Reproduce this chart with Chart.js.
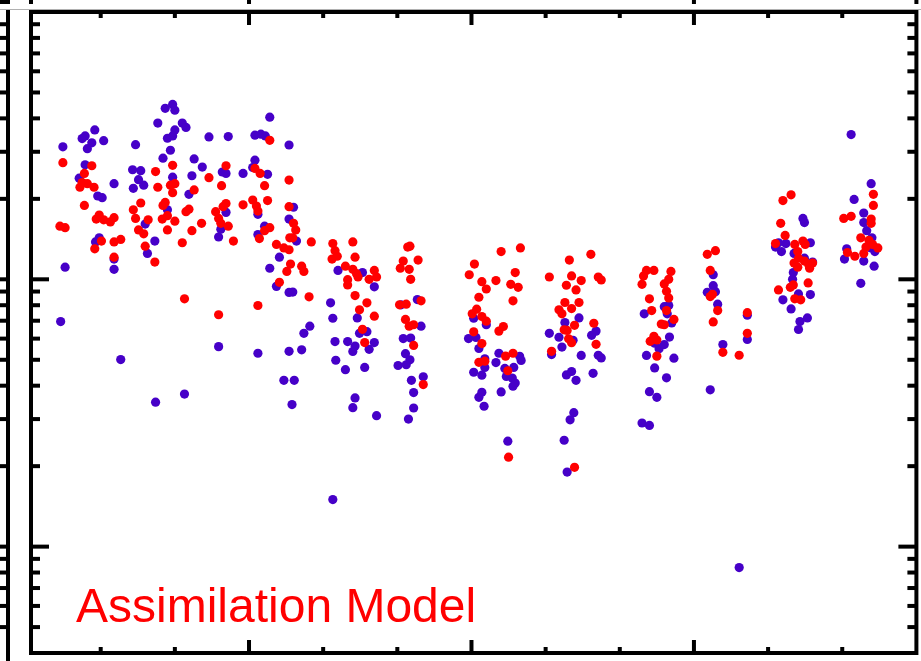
<!DOCTYPE html>
<html>
<head>
<meta charset="utf-8">
<script src="https://cdn.jsdelivr.net/npm/chart.js@4/dist/chart.umd.min.js"></script>
<style>
  body { margin: 0; background: #fff; overflow: hidden; }
</style>
</head>
<body>
<canvas id="grafico" width="921" height="661"></canvas>
<script>
// punti viola [x, y]
const puntiViola = [
  [0.49,31.3],[0.46,6.95],[0.52,11.1],
  [0.71,23.9],[0.75,33.6],[0.79,34.4],[0.79,26.8],[0.82,30.8],[0.88,32.4],[0.92,36.2],[0.93,13.8],[0.96,20.5],[0.98,14.3],
  [1.02,20.2],[1.04,33.0],[1.18,22.8],[1.18,11.9],[1.18,10.9],[1.27,5.01],
  [1.43,25.7],[1.44,21.9],[1.47,31.9],[1.51,23.6],[1.54,25.5],[1.58,22.5],[1.60,16.1],[1.63,12.5],[1.73,13.9],[1.74,3.47],
  [1.77,38.4],[1.84,28.4],[1.87,43.6],[1.90,33.7],[1.90,18.2],[1.94,30.4],[1.97,45.1],[1.97,34.4],[1.97,24.1],[2.00,42.9],[2.00,36.2],
  [2.10,38.4],[2.15,37.0],[2.13,3.72],[2.19,20.8],
  [2.23,24.4],[2.26,28.2],[2.37,26.3],[2.46,34.1],[2.59,14.4],[2.59,5.60],[2.62,15.4],[2.64,25.2],[2.69,24.9],[2.69,17.8],[2.72,34.2],[2.92,24.9],
  [3.05,26.2],[3.08,34.6],[3.08,27.9],[3.12,17.5],[3.12,14.7],[3.12,5.29],[3.16,34.9],[3.21,15.8],[3.22,34.4],[3.25,24.7],[3.28,40.4],[3.28,11.0],[3.37,9.41],[3.41,12.1],[3.47,4.19],
  [3.54,31.8],[3.54,16.8],[3.54,8.93],[3.54,5.38],[3.58,3.40],[3.59,8.96],[3.60,18.6],[3.61,4.19],[3.64,13.9],[3.71,5.45],[3.74,6.28],[3.82,6.68],
  [4.10,8.17],[4.13,7.15],[4.13,1.50],[4.16,5.85],[4.17,4.98],[4.20,10.8],[4.30,4.59],[4.33,5.85],[4.40,5.37],[4.40,3.31],[4.43,5.63],[4.43,3.60],[4.46,7.17],[4.49,6.28],[4.53,10.6],[4.56,4.68],[4.59,6.37],[4.62,5.47],[4.69,9.37],[4.69,5.80],[4.72,3.09],
  [5.01,4.76],[5.05,8.03],[5.08,6.00],[5.11,5.27],[5.12,4.79],[5.15,3.00],[5.17,5.00],[5.18,6.03],[5.19,4.19],[5.22,3.77],[5.22,3.30],[5.27,8.40],[5.32,6.68],[5.35,4.32],
  [5.96,6.00],[6.03,7.15],[6.03,4.49],[6.06,6.06],[6.10,5.51],[6.10,3.62],[6.14,4.38],[6.14,3.78],[6.17,3.35],[6.18,5.04],[6.18,4.68],[6.20,6.76],[6.33,4.88],[6.37,5.29],[6.40,3.79],[6.45,4.64],[6.47,4.33],[6.49,2.48],[6.55,4.27],[6.56,3.98],[6.57,4.68],[6.59,4.09],[6.65,5.15],[6.67,4.97],
  [7.05,6.28],[7.08,5.23],[7.18,6.07],[7.22,5.58],[7.25,2.50],[7.26,6.89],[7.28,4.39],[7.29,1.90],[7.33,2.98],[7.35,4.52],[7.37,5.91],[7.38,3.17],[7.41,4.19],[7.45,7.17],[7.48,5.19],[7.62,6.17],[7.64,4.45],[7.68,6.40],[7.71,5.20],[7.75,5.08],
  [8.30,2.90],[8.33,7.43],[8.36,5.19],[8.40,3.80],[8.40,2.84],[8.47,5.77],[8.47,4.66],[8.50,3.62],[8.53,5.50],[8.60,7.90],[8.60,5.70],[8.63,4.28],[8.64,7.43],[8.66,7.98],[8.67,6.08],[8.70,6.87],[8.73,5.07],
  [9.18,8.94],[9.22,3.86],[9.26,10.4],[9.26,9.47],[9.29,8.99],[9.32,8.07],[9.39,5.70],[9.61,0.835],[9.72,7.34],[9.72,5.96],
  [10.10,13.2],[10.14,13.7],[10.18,12.7],[10.20,8.38],[10.24,13.6],[10.31,7.75],[10.33,10.0],[10.34,10.6],[10.35,12.5],[10.41,8.82],[10.41,6.49],[10.43,6.95],[10.47,16.9],[10.49,16.3],[10.49,12.0],[10.53,7.17],[10.57,13.7],[10.57,8.77],[10.60,11.6],
  [11.03,11.9],[11.06,13.0],[11.12,34.8],[11.16,19.9],[11.25,9.66],[11.29,17.7],[11.29,16.3],[11.29,11.7],[11.33,15.2],[11.39,22.8],[11.39,13.1],[11.40,14.3],[11.43,11.2],[11.44,12.7]
];

// punti rossi [x, y]
const puntiRossi = [
  [0.45,15.8],[0.49,27.3],[0.52,15.6],[0.72,22.1],[0.75,23.0],[0.78,24.9],[0.78,18.9],[0.82,22.8],[0.88,26.6],[0.91,22.1],[0.92,13.0],[0.94,16.8],[0.98,17.4],
  [1.01,13.9],[1.04,16.7],[1.13,16.4],[1.18,17.0],[1.18,13.8],[1.18,12.1],[1.27,14.1],[1.44,18.2],[1.47,16.9],[1.51,15.3],[1.54,19.3],[1.58,14.8],[1.60,13.3],[1.64,16.7],[1.73,11.6],[1.74,25.3],[1.77,22.1],
  [1.83,16.8],[1.84,18.9],[1.87,19.4],[1.90,17.3],[1.90,15.3],[1.94,22.5],[1.97,26.7],[1.97,21.1],[2.00,22.8],[2.00,16.5],[2.10,13.7],[2.13,8.45],[2.15,17.9],[2.19,18.3],[2.23,15.2],[2.26,21.6],[2.36,16.2],
  [2.46,24.0],[2.55,17.9],[2.59,16.9],[2.59,7.37],[2.62,16.2],[2.63,22.4],[2.65,18.7],[2.69,26.6],[2.69,19.2],[2.72,15.8],[2.79,13.9],[2.92,19.0],
  [3.05,19.8],[3.08,26.0],[3.10,18.8],[3.12,18.0],[3.12,7.98],[3.14,14.2],[3.15,24.9],[3.21,22.4],[3.21,15.2],[3.25,19.7],[3.28,33.1],[3.28,15.6],[3.37,13.5],[3.41,9.74],[3.47,13.1],[3.51,10.7],
  [3.54,23.5],[3.54,18.7],[3.54,12.9],[3.55,14.3],[3.56,11.4],[3.59,14.3],[3.60,16.2],[3.63,15.3],[3.71,11.2],[3.74,10.7],[3.81,8.60],[3.84,13.8],
  [4.12,11.9],[4.13,13.6],[4.16,12.8],[4.19,12.2],[4.30,11.2],[4.33,9.97],[4.33,9.53],[4.40,13.8],[4.40,10.9],[4.43,12.1],[4.43,8.69],[4.45,10.5],[4.47,10.2],[4.49,7.69],[4.53,6.50],[4.56,5.80],[4.59,8.17],[4.62,10.0],[4.69,10.8],[4.69,7.28],[4.72,10.2],
  [5.03,8.03],[5.04,11.0],[5.08,11.7],[5.11,7.08],[5.12,8.07],[5.14,13.2],[5.16,10.9],[5.16,6.68],[5.17,13.3],[5.18,10.0],[5.22,6.76],[5.22,5.66],[5.28,11.8],[5.32,8.31],[5.35,4.04],
  [5.97,10.4],[6.01,7.43],[6.03,6.36],[6.04,11.4],[6.07,7.73],[6.10,8.57],[6.10,4.89],[6.14,9.80],[6.14,7.26],[6.14,5.75],[6.18,4.94],[6.20,9.20],[6.20,6.97],[6.33,9.89],[6.37,6.40],[6.40,12.7],[6.43,6.66],[6.46,5.16],[6.49,4.55],[6.50,2.16],[6.53,9.58],[6.56,8.31],[6.56,5.29],[6.59,10.6],[6.63,9.33],[6.66,13.1],
  [7.05,10.2],[7.08,5.38],[7.18,7.69],[7.22,7.43],[7.25,6.47],[7.26,8.19],[7.28,9.50],[7.29,6.44],[7.31,5.99],[7.32,11.8],[7.35,10.3],[7.35,7.77],[7.35,5.79],[7.39,6.73],[7.39,1.98],[7.41,9.13],[7.45,8.19],[7.48,9.89],[7.61,12.4],[7.65,6.85],[7.68,5.71],[7.71,10.2],[7.75,9.94],
  [8.30,9.58],[8.32,10.3],[8.36,10.8],[8.40,8.45],[8.41,5.86],[8.43,7.64],[8.46,10.8],[8.46,6.12],[8.50,5.93],[8.50,5.16],[8.56,6.80],[8.60,9.61],[8.60,6.76],[8.63,9.02],[8.63,7.64],[8.66,10.0],[8.66,8.52],[8.69,10.7],[8.73,7.08],
  [9.18,12.4],[9.22,10.8],[9.22,8.62],[9.25,8.79],[9.26,6.93],[9.29,12.8],[9.32,7.64],[9.39,5.33],[9.61,5.20],[9.72,7.50],[9.72,6.28],
  [10.10,13.6],[10.14,9.13],[10.17,16.2],[10.20,19.7],[10.23,14.6],[10.30,9.33],[10.31,20.7],[10.34,9.53],[10.35,11.5],[10.36,13.5],[10.36,8.45],[10.40,12.7],[10.40,11.1],[10.41,12.0],[10.44,8.38],[10.47,13.9],[10.49,11.7],[10.50,13.5],[10.54,9.69],[10.55,11.3],[10.56,11.0],[10.60,11.5],
  [11.02,16.9],[11.07,12.6],[11.12,17.2],[11.17,12.2],[11.25,14.3],[11.29,12.5],[11.32,13.2],[11.36,14.0],[11.39,16.8],[11.39,16.2],[11.41,13.5],[11.42,20.8],[11.42,18.9],[11.48,13.1]
];

// tacche degli assi (nessuna etichetta visibile)
const tickX = [1, 2, 3, 4, 5, 6, 7, 8, 9, 10, 11];
const tickXMaggiori = [3, 6, 9];
const tickY = [0.5, 0.6, 0.7, 0.8, 0.9, 1, 2, 3, 4, 5, 6, 7, 8, 9, 10, 20, 30, 40, 50, 60, 70, 80, 90];
const tickYMaggiori = [1, 10];

const etichetta = "Assimilation Model";

// plugin che disegna cornice, tacche interne e scritta
const cornice = {
  id: "cornice",
  afterDraw(chart) {
    const { ctx, chartArea: a, scales } = chart;
    const x = scales.x;
    const y = scales.y;
    ctx.save();
    ctx.fillStyle = "#000";

    // tacche asse x sopra e sotto
    tickX.forEach((v) => {
      const px = x.getPixelForValue(v);
      const lung = tickXMaggiori.includes(v) ? 13 : 6;
      ctx.fillRect(px - 2, a.top, 4, lung);
      ctx.fillRect(px - 2, a.bottom - lung, 4, lung);
    });
    // tacche asse y a sinistra e destra
    tickY.forEach((v) => {
      const py = y.getPixelForValue(v);
      const lung = tickYMaggiori.includes(v) ? 18 : 9;
      ctx.fillRect(a.left, py - 2, lung, 4);
      ctx.fillRect(a.right - lung, py - 2, lung, 4);
      // pannello vicino a sinistra
      ctx.fillRect(0, py - 2, 7, 4);
    });

    // cornice spessa
    ctx.strokeStyle = "#000";
    ctx.lineWidth = 4;
    ctx.strokeRect(a.left, a.top, a.right - a.left, a.bottom - a.top);

    // bordi dei pannelli vicini
    ctx.fillRect(6, a.top - 2, 4, chart.height);
    ctx.fillRect(0, 0, 10, 4);
    [a.left, x.getPixelForValue(3), x.getPixelForValue(9), a.right].forEach((px) => {
      ctx.fillRect(px - 2, 0, 4, 4);
    });
    ctx.fillStyle = "#b0b0b0";
    ctx.fillRect(0, a.top - 3, chart.width, 1);

    // scritta del modello
    ctx.fillStyle = "#ff0000";
    ctx.font = "48px 'Liberation Sans', Arial, sans-serif";
    ctx.textBaseline = "alphabetic";
    ctx.fillText(etichetta, 76, 622);
    ctx.restore();
  },
};

const ctx = document.getElementById("grafico").getContext("2d");
new Chart(ctx, {
  type: "scatter",
  data: {
    datasets: [
      {
        label: "rosso",
        data: puntiRossi.map((p) => ({ x: p[0], y: p[1] })),
        backgroundColor: "#ff0000",
        borderWidth: 0,
        pointRadius: 4.6,
        pointHoverRadius: 4.6,
      },
      {
        label: "viola",
        data: puntiViola.map((p) => ({ x: p[0], y: p[1] })),
        backgroundColor: "#4600c8",
        borderWidth: 0,
        pointRadius: 4.6,
        pointHoverRadius: 4.6,
      },
    ],
  },
  options: {
    responsive: false,
    animation: false,
    layout: { padding: { left: 31, right: 1.5, top: 12, bottom: 8 } },
    plugins: { legend: { display: false }, tooltip: { enabled: false } },
    scales: {
      x: { type: "linear", min: 0.06, max: 12, display: false },
      y: { type: "logarithmic", min: 0.4, max: 100, display: false },
    },
  },
  plugins: [cornice],
});
</script>
</body>
</html>
